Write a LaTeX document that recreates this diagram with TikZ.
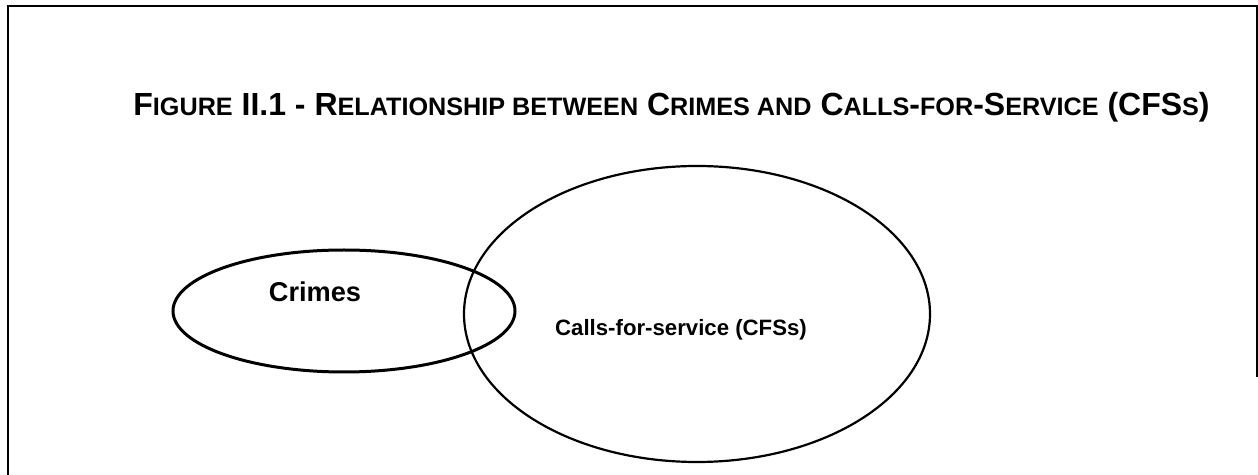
\documentclass[tikz,border=0pt]{standalone}
\usepackage{fontspec}
\setmainfont{Liberation Sans}
\usetikzlibrary{shapes.geometric}
\newcommand\smallcap[1]{{\fontsize{12.6}{14}\selectfont #1}}
\begin{document}
\begin{tikzpicture}[x=0.5pt,y=-0.5pt]
\useasboundingbox (0,0) rectangle (1258,475);
% frame
\draw[line width=1.4pt] (8,475) -- (8,6) -- (1257,6) -- (1257,377);

\node[anchor=base west,inner sep=0,font=\fontsize{16}{18}\selectfont\bfseries] (title) at (133,116)
  {F\smallcap{IGURE} II.1 - R\smallcap{ELATIONSHIP BETWEEN} C\smallcap{RIMES AND} C\smallcap{ALLS}-\smallcap{FOR}-S\smallcap{ERVICE} (CFS\smallcap{S})};

\begin{scope}[every node/.style={draw,ellipse,inner sep=0}]
    \node[line width=1.5pt,minimum width=171pt,minimum height=61pt] (crimes) at (344,311) {};
    \node[line width=1.1pt,minimum width=233pt,minimum height=148pt] (cfs) at (697,314) {};
\end{scope}

\begin{scope}[every node/.style={font=\bfseries,inner sep=0}]
    \node[font=\fontsize{13.6}{15}\selectfont\bfseries] (crimeslabel) at (315,292) {Crimes};
    \node[font=\fontsize{11.1}{13}\selectfont\bfseries] (cfslabel) at (681,330) {Calls-for-service (CFSs)};
\end{scope}
\end{tikzpicture}
\end{document}
